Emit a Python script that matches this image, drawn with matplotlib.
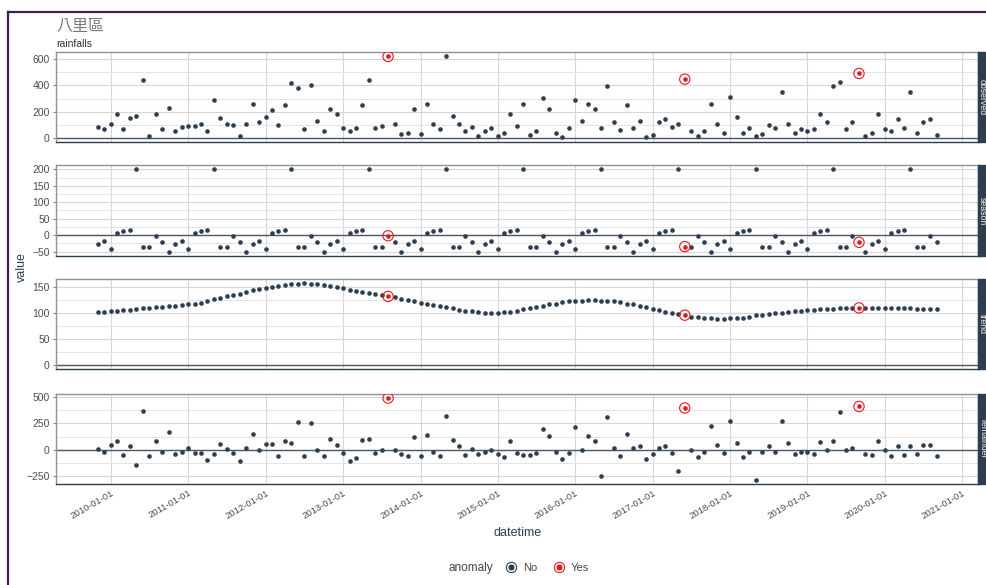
import matplotlib
matplotlib.use("Agg")
import matplotlib.pyplot as plt
import matplotlib.dates as mdates
from matplotlib.lines import Line2D
from matplotlib.patches import Rectangle
from matplotlib.legend_handler import HandlerTuple
from matplotlib.ticker import MultipleLocator
import numpy as np
import pandas as pd

plt.rcParams["font.family"] = ["Liberation Sans", "Noto Sans CJK TC", "DejaVu Sans"]

# monthly series, 2009-11 .. 2020-09
datetime = pd.date_range("2009-11-01", periods=131, freq="MS")

observed = [
    86, 71,
    111, 187, 68, 152, 170, 438, 18, 187, 68, 230, 51, 84,
    94, 94, 106, 51, 289, 152, 106, 99, 18, 106, 263, 119,
    157, 215, 99, 251, 415, 382, 68, 400, 132, 51, 225, 182,
    78, 51, 78, 251, 438, 78, 94, 620, 106, 30, 43, 220,
    30, 263, 111, 73, 625, 170, 106, 56, 86, 13, 56, 81,
    18, 38, 187, 94, 263, 25, 51, 306, 225, 38, 8, 81,
    289, 132, 263, 225, 81, 395, 119, 63, 251, 81, 132, 8,
    25, 124, 149, 86, 106, 448, 56, 18, 56, 263, 106, 43,
    311, 157, 38, 81, 18, 30, 99, 81, 349, 111, 43, 68,
    51, 73, 187, 119, 395, 425, 68, 124, 491, 13, 38, 182,
    68, 56, 149, 81, 349, 38, 119, 149, 25,
]

season = [
    -28, -18,
    -42, 5, 12, 15, 200, -35, -35, -2, -22, -52, -28, -18,
    -42, 5, 12, 15, 200, -35, -35, -2, -22, -52, -28, -18,
    -42, 5, 12, 15, 200, -35, -35, -2, -22, -52, -28, -18,
    -42, 5, 12, 15, 200, -35, -35, -2, -22, -52, -28, -18,
    -42, 5, 12, 15, 200, -35, -35, -2, -22, -52, -28, -18,
    -42, 5, 12, 15, 200, -35, -35, -2, -22, -52, -28, -18,
    -42, 5, 12, 15, 200, -35, -35, -2, -22, -52, -28, -18,
    -42, 5, 12, 15, 200, -35, -35, -2, -22, -52, -28, -18,
    -42, 5, 12, 15, 200, -35, -35, -2, -22, -52, -28, -18,
    -42, 5, 12, 15, 200, -35, -35, -2, -22, -52, -28, -18,
    -42, 5, 12, 15, 200, -35, -35, -2, -22,
]

trend = [
    102, 102,
    104, 104, 105, 105, 107, 109, 109, 111, 112, 113, 113, 115,
    117, 118, 120, 123, 127, 129, 132, 135, 137, 141, 145, 146,
    148, 151, 152, 154, 155, 156, 157, 156, 155, 154, 152, 150,
    148, 145, 143, 140, 139, 137, 134, 132, 131, 127, 126, 123,
    120, 118, 115, 113, 112, 109, 106, 104, 104, 103, 101, 101,
    101, 102, 102, 104, 107, 109, 112, 113, 117, 118, 122, 123,
    123, 124, 125, 125, 124, 123, 123, 121, 118, 117, 113, 112,
    108, 105, 102, 100, 99, 96, 93, 93, 90, 90, 88, 88,
    90, 90, 90, 93, 96, 96, 99, 100, 101, 103, 104, 104,
    105, 106, 107, 107, 107, 109, 109, 109, 110, 109, 109, 109,
    109, 109, 109, 109, 109, 108, 107, 107, 107,
]

remainder = [
    9, -16,
    44, 79, -47, 32, -139, 367, -60, 85, -22, 171, -38, -22,
    19, -32, -32, -95, -38, 57, 9, -32, -101, 16, 149, -6,
    54, 57, -60, 79, 66, 266, -54, 250, 0, -54, 104, 47,
    -32, -108, -76, 95, 104, -32, -6, 490, 0, -44, -54, 117,
    -54, 142, -16, -54, 323, 95, 32, -47, 9, -38, -22, -6,
    -38, -70, 79, -32, -47, -47, -32, 196, 133, -22, -85, -32,
    212, 0, 127, 85, -250, 307, 22, -54, 149, 16, 41, -85,
    -38, 16, 41, -32, -196, 396, 0, -70, -16, 228, 47, -32,
    269, 63, -70, -22, -282, -22, 41, -16, 275, 63, -38, -22,
    -16, -38, 73, 0, 85, 358, -6, 22, 411, -38, -47, 85,
    0, -54, 32, -47, 41, -38, 47, 47, -60,
]

anomaly_dates = ["2013-08-01", "2017-06-01", "2019-09-01"]

panels = ["observed", "season", "trend", "remainder"]
series = [observed, season, trend, remainder]
major_step = [200, 50, 50, 250]
minor_step = [100, 25, 25, 125]

dark = "#2c3e50"
red = "#e31a1c"
is_anom = datetime.isin(pd.to_datetime(anomaly_dates))

fig = plt.figure(figsize=(9.87, 5.85), dpi=100)
W, H = 987.0, 585.0
left, right = 56 / W, 978.5 / W
boxes = [(51.7, 142.3), (165.3, 256.3), (279.3, 369.3), (394.0, 483.7)]

axes = []
for k, name in enumerate(panels):
    top, bot = boxes[k]
    ax = fig.add_axes([left, 1 - bot / H, right - left, (bot - top) / H])
    vals = np.array(series[k], dtype=float)
    ax.axhline(0, color="#4a5866", lw=1.0, zorder=2)
    ax.scatter(datetime[~is_anom], vals[~is_anom], s=11, color=dark, zorder=3, linewidths=0)
    ax.scatter(datetime[is_anom], vals[is_anom], s=11, color=red, zorder=4, linewidths=0)
    ax.scatter(datetime[is_anom], vals[is_anom], s=55, facecolors="none",
               edgecolors=red, linewidths=0.8, zorder=4)

    lo, hi = min(vals.min(), 0), max(vals.max(), 0)
    pad = (hi - lo) * 0.05
    ax.set_ylim(lo - pad, hi + pad)
    ax.margins(x=0.05)
    ax.yaxis.set_major_locator(MultipleLocator(major_step[k]))
    ax.yaxis.set_minor_locator(MultipleLocator(minor_step[k]))
    ax.xaxis.set_major_locator(mdates.YearLocator())
    ax.xaxis.set_major_formatter(mdates.DateFormatter("%Y-%m-%d"))
    ax.grid(True, which="major", color="#d6d6d6", lw=0.8, zorder=0)
    ax.grid(True, which="minor", axis="y", color="#e4e4e4", lw=0.7, zorder=0)
    ax.set_axisbelow(True)
    ax.tick_params(axis="y", which="major", labelsize=7.5, labelcolor="#4d4d4d",
                   color="#888888", length=2.5, pad=2)
    ax.tick_params(axis="y", which="minor", length=0)
    ax.tick_params(axis="x", length=0, labelsize=6.8, labelcolor="#4d4d4d")
    for s in ["top", "left", "right"]:
        ax.spines[s].set_color("#8a939c")
        ax.spines[s].set_linewidth(1.0)
    ax.spines["bottom"].set_color(dark)
    ax.spines["bottom"].set_linewidth(1.0)
    if k < 3:
        ax.tick_params(axis="x", labelbottom=False)
    else:
        plt.setp(ax.get_xticklabels(), rotation=30, ha="right", rotation_mode="anchor")

    # facet strip on the right edge
    fig.add_artist(Rectangle((right, 1 - bot / H), 30 / W, (bot - top) / H,
                             transform=fig.transFigure, color=dark, zorder=5))
    fig.text(982.5 / W, 1 - (top + bot) / 2 / H, name, rotation=-90, ha="center",
             va="center", color="#f2f2f2", fontsize=6.3, zorder=6)
    axes.append(ax)

# titles and labels
fig.text(56 / W, 1 - 27 / H, "八里區", fontsize=11.5, color="#7a7a7a", va="center",
         family=["Noto Sans CJK TC", "DejaVu Sans"])
fig.text(56 / W, 1 - 44 / H, "rainfalls", fontsize=7.5, color="#333333", va="center")
fig.text(22 / W, 1 - 267 / H, "value", rotation=90, fontsize=9, color=dark,
         ha="center", va="center")
fig.text(517.5 / W, 1 - 533 / H, "datetime", fontsize=9, color=dark, ha="center", va="center")

# legend
fig.text(471 / W, 1 - 568 / H, "anomaly", fontsize=8.5, color="#444444", ha="center", va="center")
h_no = (Line2D([], [], marker="o", ls="", markersize=7.4, mfc="none", mec=dark, mew=0.8),
        Line2D([], [], marker="o", ls="", markersize=3.4, color=dark))
h_yes = (Line2D([], [], marker="o", ls="", markersize=7.4, mfc="none", mec=red, mew=0.8),
         Line2D([], [], marker="o", ls="", markersize=3.4, color=red))
fig.legend([h_no, h_yes], ["No", "Yes"], ncol=2, frameon=False, fontsize=8,
           handler_map={tuple: HandlerTuple(ndivide=1)}, loc="center",
           bbox_to_anchor=(547 / W, 1 - 568 / H), handlelength=1.2, handletextpad=0.5,
           columnspacing=1.3, labelcolor="#444444")

# purple frame (cropped screenshot)
frame = "#3d1f58"
fig.add_artist(Line2D([8 / W, 8 / W], [0, 1 - 11.5 / H], transform=fig.transFigure,
                      color=frame, lw=1.6))
fig.add_artist(Line2D([8 / W, 1], [1 - 11.5 / H, 1 - 11.5 / H], transform=fig.transFigure,
                      color=frame, lw=1.6))

fig.savefig("out.png", dpi=100)
